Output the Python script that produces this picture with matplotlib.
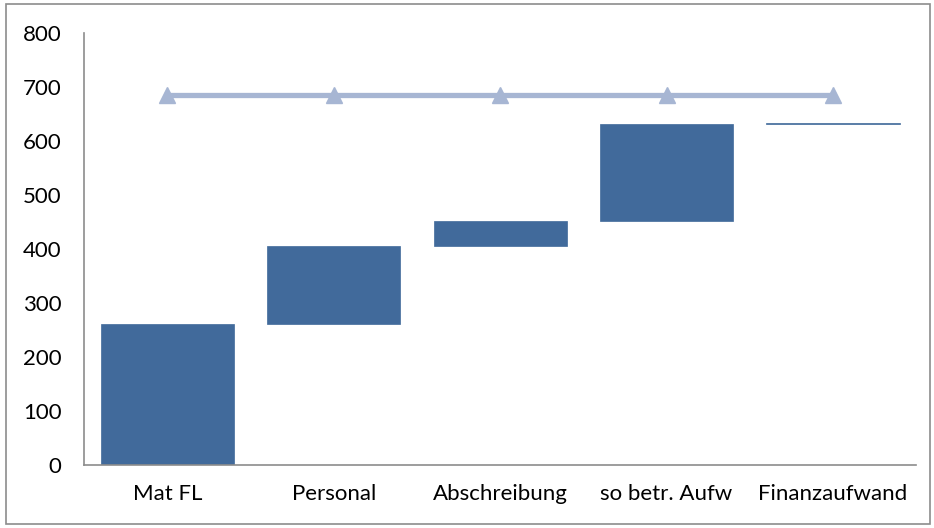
import matplotlib.pyplot as plt
import matplotlib.patches as mpatches
import numpy as np

categories = ['Mat FL', 'Personal', 'Abschreibung', 'so betr. Aufw', 'Finanzaufwand']
bottoms = [0, 261, 405, 452, 631]
heights = [261, 144, 47, 179, 2]
total_line = [685, 685, 685, 685, 685]

plt.rcParams['font.family'] = ['Lato', 'DejaVu Sans']

fig = plt.figure(figsize=(9.34, 5.28), dpi=100)
ax = fig.add_axes([0.0899, 0.1193, 0.8911, 0.8182])

x = np.arange(len(categories))
ax.bar(x, heights, bottom=bottoms, width=0.8, color='#416A9B', edgecolor='#416A9B', linewidth=0.5)
ax.plot(x, total_line, color='#A7B6D3', linewidth=3.8, marker='^', markersize=11,
        markerfacecolor='#A7B6D3', markeredgecolor='#A7B6D3')

ax.set_xlim(-0.5, len(categories) - 0.5)
ax.set_ylim(0, 800)
ax.set_yticks(range(0, 801, 100))
ax.set_xticks(x)
ax.set_xticklabels(categories)
ax.tick_params(axis='both', length=0, labelsize=16)
ax.tick_params(axis='y', pad=16)
ax.tick_params(axis='x', pad=14)
for s in ['top', 'right']:
    ax.spines[s].set_visible(False)
for s in ['left', 'bottom']:
    ax.spines[s].set_color('#8C8C8C')
    ax.spines[s].set_linewidth(1.2)

fig.patches.append(mpatches.Rectangle((0.006, 0.008), 0.99, 0.984, transform=fig.transFigure,
                                      fill=False, edgecolor='#8C8C8C', linewidth=1.2))

fig.savefig('out.png', dpi=100)
